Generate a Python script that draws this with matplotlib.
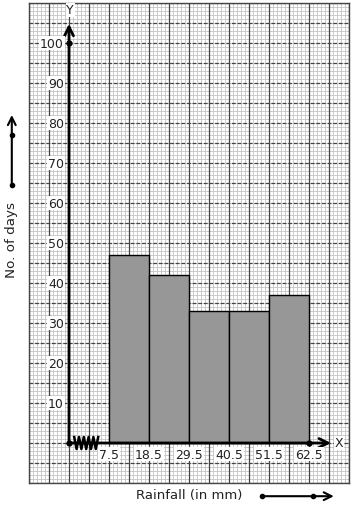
import numpy as np
import matplotlib
matplotlib.use("Agg")
import matplotlib.pyplot as plt

# class boundaries and frequencies
boundaries = ["7.5", "18.5", "29.5", "40.5", "51.5", "62.5"]
days = [47, 42, 33, 33, 37]
y_ticks = [10, 20, 30, 40, 50, 60, 70, 80, 90, 100]

W, H = 354, 510
fig = plt.figure(figsize=(W / 100, H / 100), dpi=100)
# graph paper area in pixels: x 29..349, y 4..484
ax = fig.add_axes([29 / W, (H - 484) / H, 320 / W, 480 / H])
ax.set_xlim(-1, 7)
ax.set_ylim(-10, 110)
ax.set_xticks([])
ax.set_yticks([])
for s in ax.spines.values():
    s.set_color("#444444")
    s.set_linewidth(1)

# graph paper
for x in np.arange(-1, 7.01, 0.1):
    ax.axvline(x, color="#c4c4c4", lw=0.6, zorder=0)
for y in np.arange(-10, 110.01, 1):
    ax.axhline(y, color="#c4c4c4", lw=0.6, zorder=0)
for x in np.arange(-1, 7.01, 0.5):
    ax.axvline(x, color="#444444", lw=0.9, zorder=0.5)
for y in np.arange(-10, 110.01, 5):
    ax.axhline(y, color="#444444", lw=0.9, ls=(0, (3, 1.5)), zorder=0.5)

# histogram
left = np.arange(1, len(days) + 1)
ax.bar(left, days, width=1, align="edge", color="#979797",
       edgecolor="black", lw=1, zorder=2)

# axes
ax.annotate("", xy=(0, 104.8), xytext=(0, 0),
            arrowprops=dict(arrowstyle="->", lw=2, color="black",
                            mutation_scale=16, shrinkA=0, shrinkB=0), zorder=3)
ax.annotate("", xy=(6.55, 0), xytext=(0, 0),
            arrowprops=dict(arrowstyle="->", lw=2, color="black",
                            mutation_scale=16, shrinkA=0, shrinkB=0), zorder=3)
ax.plot([0, 0, 6], [0, 100, 0], "o", color="black", ms=3.5, zorder=4)

# kink on x axis
n_pts = 11
zx = np.linspace(0.13, 0.73, n_pts)
zy = np.where(np.arange(n_pts) % 2 == 0, 1.5, -1.5)
ax.plot(zx, zy, color="black", lw=1.8, zorder=4)

box = dict(facecolor="white", edgecolor="none", pad=0.5)
for v in y_ticks:
    ax.text(-0.13, v, str(v), ha="right", va="center", fontsize=9,
            color="#222222", bbox=box, zorder=3)
for i, b in enumerate(boundaries):
    ax.text(1 + i, -2.8, b, ha="center", va="center", fontsize=9,
            color="#222222", bbox=box, zorder=3)
ax.text(0.03, 108.3, "Y", ha="center", va="center", fontsize=9,
        color="#222222", bbox=box, zorder=3)
ax.text(6.75, 0, "X", ha="center", va="center", fontsize=9,
        color="#222222", bbox=box, zorder=3)

# axis titles with scale arrows
ax.text(-1.43, 51, "No. of days", rotation=90, ha="center", va="center",
        fontsize=9.7, color="#222222", clip_on=False)
ax.annotate("", xy=(-1.43, 82), xytext=(-1.43, 64.5), annotation_clip=False,
            arrowprops=dict(arrowstyle="->", lw=1.5, color="black",
                            mutation_scale=14, shrinkA=0, shrinkB=0))
ax.plot([-1.43, -1.43], [64.5, 77], "o", color="black", ms=3, clip_on=False)

ax.text(3.0, -13, "Rainfall (in mm)", ha="center", va="center",
        fontsize=9.5, color="#222222", clip_on=False)
ax.annotate("", xy=(6.62, -13.3), xytext=(4.82, -13.3), annotation_clip=False,
            arrowprops=dict(arrowstyle="->", lw=1.5, color="black",
                            mutation_scale=14, shrinkA=0, shrinkB=0))
ax.plot([4.82, 6.1], [-13.3, -13.3], "o", color="black", ms=3, clip_on=False)

fig.savefig("out.png", dpi=100, facecolor="white")
